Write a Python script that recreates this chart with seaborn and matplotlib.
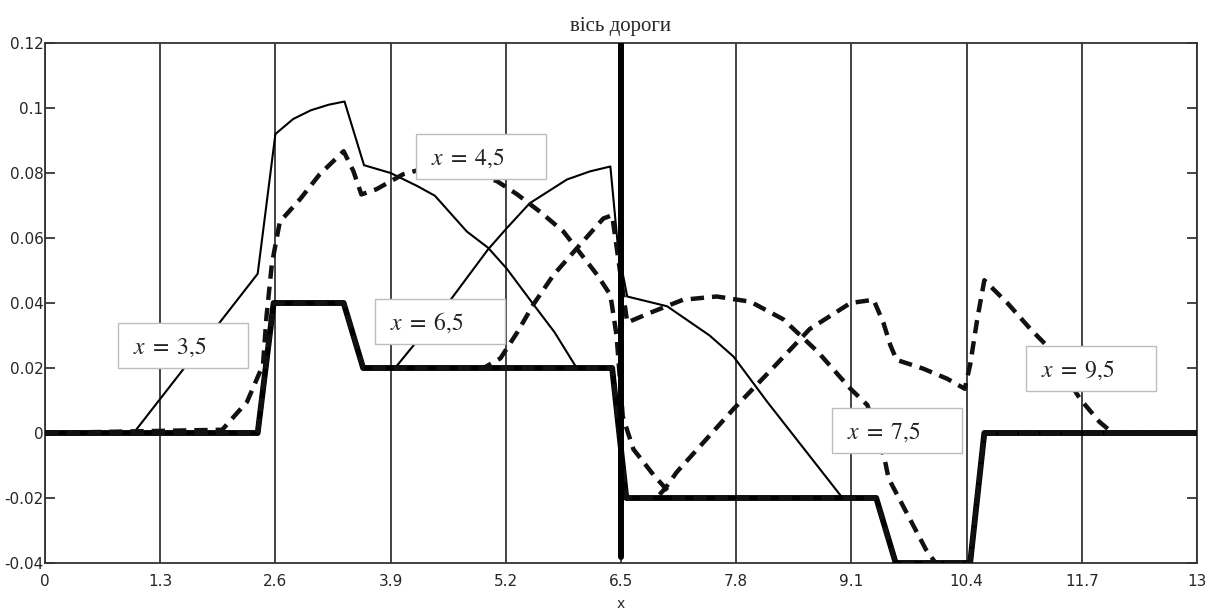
import matplotlib
matplotlib.use("Agg")
import seaborn as sns
import matplotlib.pyplot as plt
from matplotlib.patches import Rectangle

# Базова ступінчаста лінія (товста)
base_x = [0, 2.4, 2.58, 3.37, 3.59, 6.4, 6.56, 9.38, 9.6, 10.44, 10.6, 13]
base_y = [0, 0, 0.04, 0.04, 0.02, 0.02, -0.02, -0.02, -0.04, -0.04, 0, 0]

# x = 3,5 (тонка суцільна)
s35_x = [1.0, 2.4, 2.6, 2.8, 3.0, 3.2, 3.38, 3.6, 3.9, 4.2, 4.4, 4.76, 5.0, 5.21, 5.5, 5.75, 6.0]
s35_y = [0, 0.049, 0.092, 0.0966, 0.0993, 0.101, 0.102, 0.0824, 0.080, 0.076, 0.073, 0.062, 0.057,
         0.0506, 0.040, 0.031, 0.02]

# x = 6,5 (тонка суцільна)
s65_x = [3.95, 4.55, 5.0, 5.21, 5.47, 5.89, 6.15, 6.38, 6.47, 6.57, 7.02, 7.5, 7.77, 8.15, 8.71, 9.0]
s65_y = [0.02, 0.040, 0.0565, 0.063, 0.0707, 0.078, 0.0805, 0.082, 0.056, 0.042, 0.039, 0.030,
         0.0235, 0.0096, -0.0099, -0.02]

# x = 4,5 (штрихова)
d45_x = [2.0, 2.28, 2.46, 2.5, 2.56, 2.65, 2.88, 3.1, 3.37, 3.48, 3.57, 3.74, 4.04, 4.5, 5.1, 5.33,
         5.59, 5.85, 6.23, 6.38, 6.45, 6.52, 6.64, 6.87, 7.1]
d45_y = [0.001, 0.0096, 0.021, 0.036, 0.052, 0.065, 0.072, 0.0796, 0.0867, 0.0806, 0.0734, 0.075,
         0.0796, 0.083, 0.0775, 0.0734, 0.068, 0.062, 0.0487, 0.0425, 0.03, 0.005, -0.005, -0.013, -0.02]

# x = 7,5 (штрихова)
d75_x = [4.95, 5.14, 5.33, 5.51, 5.74, 6.04, 6.3, 6.4, 6.57, 6.83, 7.2, 7.58, 7.96, 8.33, 8.72,
         9.09, 9.28, 9.47, 9.52, 9.94, 10.05]
d75_y = [0.02, 0.023, 0.031, 0.0395, 0.0487, 0.058, 0.066, 0.067, 0.034, 0.037, 0.041, 0.042, 0.0404,
         0.035, 0.025, 0.0136, 0.0086, -0.0074, -0.014, -0.0358, -0.04]

# x = 9,5 (штрихова)
d95_x = [6.9, 7.0, 7.13, 7.77, 8.2, 8.63, 9.09, 9.35, 9.46, 9.54, 9.61, 9.91, 10.18, 10.38, 10.44,
         10.52, 10.6, 10.86, 11.12, 11.3, 11.68, 11.9, 12.05]
d95_y = [-0.02, -0.017, -0.012, 0.0074, 0.0196, 0.032, 0.040, 0.041, 0.034, 0.027, 0.0225, 0.0198,
         0.0167, 0.0136, 0.021, 0.035, 0.047, 0.040, 0.032, 0.027, 0.0105, 0.0034, 0.0]

road_axis = 6.5
x_ticks = [0, 1.3, 2.6, 3.9, 5.2, 6.5, 7.8, 9.1, 10.4, 11.7, 13]
x_labels = ["0", "1.3", "2.6", "3.9", "5.2", "6.5", "7.8", "9.1", "10.4", "11.7", "13"]
y_ticks = [-0.04, -0.02, 0, 0.02, 0.04, 0.06, 0.08, 0.1, 0.12]
y_labels = ["-0.04", "-0.02", "0", "0.02", "0.04", "0.06", "0.08", "0.1", "0.12"]
box_labels = ["3,5", "4,5", "6,5", "7,5", "9,5"]


def on_base(xs, ys):
    # поза зоною впливу крива йде по базовій лінії
    left = [(bx, by) for bx, by in zip(base_x, base_y) if bx < xs[0]]
    right = [(bx, by) for bx, by in zip(base_x, base_y) if bx > xs[-1]]
    px = [p[0] for p in left] + list(xs) + [p[0] for p in right]
    py = [p[1] for p in left] + list(ys) + [p[1] for p in right]
    return px, py


sns.set_style("white")
plt.rcParams["font.family"] = ["DejaVu Sans"]
plt.rcParams["mathtext.fontset"] = "stix"

fig = plt.figure(figsize=(12.19, 6.14), dpi=100)
ax = fig.add_axes([45 / 1219, 1 - 563 / 614, 1152 / 1219, 520 / 614])

dash = (0, (3.0, 1.8))

# базова лінія
sns.lineplot(x=base_x, y=base_y, ax=ax, color="black", lw=4.2, sort=False, estimator=None, zorder=3)

# тонкі суцільні
for xs, ys in [(s35_x, s35_y), (s65_x, s65_y)]:
    px, py = on_base(xs, ys)
    sns.lineplot(x=px, y=py, ax=ax, color="black", lw=1.5, sort=False, estimator=None, zorder=3)

# штрихові
for xs, ys in [(d45_x, d45_y), (d75_x, d75_y), (d95_x, d95_y)]:
    px, py = on_base(xs, ys)
    sns.lineplot(x=px, y=py, ax=ax, color="#111111", lw=3.2, linestyle=dash,
                 sort=False, estimator=None, zorder=3)

# вісь дороги
ax.axvline(road_axis, ymin=0.012, ymax=1, color="black", lw=4.3, zorder=4)

# підписи в рамках (нижній лівий кут у координатах даних)
box_pos = [(0.82, 0.020), (4.19, 0.0782), (3.72, 0.0274), (8.88, -0.0062), (11.07, 0.0129)]
box_w, box_h = 1.467, 0.01385
for lab, (bx, by) in zip(box_labels, box_pos):
    ax.add_patch(Rectangle((bx, by), box_w, box_h, facecolor="white", edgecolor="#bdbdbd",
                           lw=1.0, zorder=6))
    ax.text(bx + 0.17, by + box_h / 2 - 0.0004, r"$x\;=\;" + lab.replace(",", "{,}") + "$",
            fontsize=17, ha="left", va="center", color="#222222", zorder=7)

ax.set_xlim(0, 13)
ax.set_ylim(-0.04, 0.12)
ax.set_xticks(x_ticks)
ax.set_xticklabels(x_labels)
ax.set_yticks(y_ticks)
ax.set_yticklabels(y_labels)
ax.grid(axis="x", color="#222222", lw=1.2, zorder=1)
ax.grid(axis="y", visible=False)
ax.set_axisbelow(True)

ax.tick_params(axis="x", length=0, pad=8, labelsize=11)
ax.tick_params(axis="y", direction="in", length=7, width=1.2, left=True, right=True,
               pad=1, labelsize=11)
for sp in ax.spines.values():
    sp.set_color("#333333")
    sp.set_linewidth(1.3)

ax.set_title("вісь дороги", fontsize=15, family="Liberation Serif", pad=9)
ax.set_xlabel("x", fontsize=10, labelpad=6)
ax.set_ylabel("")

fig.savefig("out.png", dpi=100)
plt.close()
